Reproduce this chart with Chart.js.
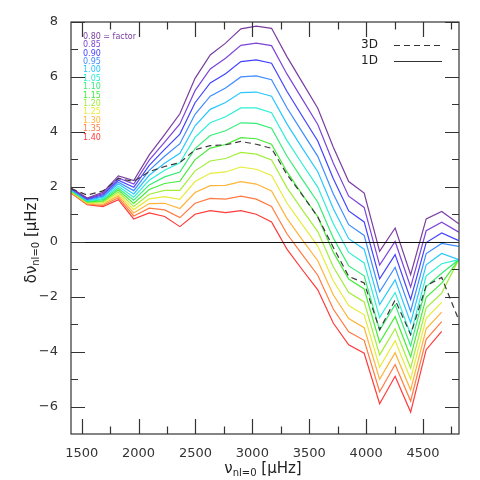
<!DOCTYPE html>
<html><head><meta charset="utf-8">
<script src="https://cdn.jsdelivr.net/npm/chart.js@4"></script>
<style>html,body{margin:0;padding:0;background:#fff}</style>
</head><body>
<canvas id="c" width="480" height="480"></canvas>
<script>
// l=0 mode frequencies (muHz)
const freqs = [1407, 1548.3, 1686.6, 1822.2, 1957.4, 2093.5, 2228.8, 2362.8, 2496.2, 2629.7, 2764.2, 2898.9, 3033.8, 3168.6, 3303.5, 3438.9, 3574.9, 3710.7, 3846.5, 3982.6, 4118.5, 4254.6, 4390.9, 4527.6, 4664.0, 4814];
const factors = ['0.80','0.85','0.90','0.95','1.00','1.05','1.10','1.15','1.20','1.25','1.30','1.35','1.40'];
const s080 = [1.96,1.59,1.80,2.40,2.23,3.16,3.90,4.66,5.95,6.80,7.23,7.75,7.85,7.77,6.74,5.80,4.86,3.45,2.19,1.77,-0.35,0.50,-1.20,0.83,1.10,0.65];
const s085 = [1.94,1.57,1.75,2.32,2.10,2.97,3.63,4.29,5.50,6.29,6.68,7.15,7.23,7.14,6.11,5.19,4.27,2.87,1.66,1.25,-0.85,0.01,-1.65,0.40,0.71,0.35];
const s090 = [1.93,1.55,1.71,2.24,1.98,2.78,3.36,3.92,5.06,5.78,6.12,6.56,6.62,6.50,5.48,4.57,3.67,2.30,1.12,0.72,-1.35,-0.47,-2.10,-0.03,0.32,0.04];
const s095 = [1.91,1.53,1.66,2.17,1.86,2.60,3.11,3.57,4.64,5.30,5.60,6.00,6.04,5.90,4.88,3.99,3.11,1.75,0.62,0.23,-1.82,-0.93,-2.53,-0.43,-0.06,-0.17];
const s100 = [1.89,1.51,1.62,2.10,1.74,2.42,2.86,3.22,4.22,4.82,5.07,5.43,5.45,5.30,4.29,3.41,2.55,1.21,0.11,-0.27,-2.29,-1.39,-2.95,-0.84,-0.43,-0.65];
const s105 = [1.88,1.49,1.57,2.02,1.62,2.24,2.60,2.87,3.80,4.33,4.55,4.87,4.87,4.70,3.69,2.83,1.99,0.66,-0.39,-0.77,-2.76,-1.85,-3.38,-1.24,-0.80,-0.65];
const s110 = [1.86,1.47,1.53,1.95,1.51,2.07,2.36,2.54,3.39,3.87,4.04,4.33,4.31,4.13,3.12,2.27,1.44,0.14,-0.88,-1.24,-3.22,-2.29,-3.79,-1.63,-1.15,-0.65];
const s115 = [1.85,1.45,1.49,1.88,1.39,1.90,2.12,2.20,2.99,3.41,3.54,3.79,3.75,3.55,2.55,1.72,0.91,-0.38,-1.36,-1.72,-3.67,-2.73,-4.19,-2.02,-1.51,-0.65];
const s120 = [1.83,1.43,1.45,1.81,1.28,1.73,1.87,1.87,2.58,2.94,3.03,3.25,3.19,2.98,1.97,1.16,0.37,-0.91,-1.85,-2.19,-4.12,-3.17,-4.60,-2.41,-1.87,-0.65];
const s125 = [1.82,1.41,1.41,1.74,1.17,1.56,1.64,1.54,2.19,2.49,2.54,2.72,2.64,2.41,1.41,0.62,-0.16,-1.42,-2.32,-2.66,-4.57,-3.60,-5.00,-2.79,-2.21,null];
const s130 = [1.80,1.39,1.36,1.67,1.05,1.39,1.40,1.21,1.79,2.04,2.05,2.19,2.10,1.85,0.85,0.07,-0.69,-1.93,-2.80,-3.13,-5.01,-4.04,-5.40,-3.17,-2.56,null];
const s135 = [1.79,1.37,1.32,1.60,0.94,1.22,1.16,0.88,1.40,1.58,1.55,1.66,1.55,1.28,0.29,-0.47,-1.22,-2.45,-3.28,-3.59,-5.46,-4.47,-5.80,-3.55,-2.91,null];
const s140 = [1.77,1.35,1.28,1.53,0.83,1.05,0.92,0.55,1.00,1.13,1.06,1.13,1.00,0.72,-0.27,-1.02,-1.75,-2.96,-3.75,-4.06,-5.90,-4.90,-6.20,-3.93,-3.26,null];
const dash3D = [1.93,1.70,1.85,2.30,2.20,2.55,2.74,2.88,3.35,3.50,3.53,3.65,3.55,3.40,2.45,1.70,0.90,-0.20,-1.26,-1.50,-3.20,-2.12,-3.38,-1.60,-1.30,-2.85];
const series = [s080,s085,s090,s095,s100,s105,s110,s115,s120,s125,s130,s135,s140];
const colors = ['#7a3da0','#7d45d8','#4343ff','#3f8cff','#2ac6ff','#2feed6','#38ec78','#45ec3a','#a2ee3a','#e6ec3a','#ffb33a','#ff7a40','#ff3a3a'];
const xMajor = [1500,2000,2500,3000,3500,4000,4500];
const xMinor = [1750,2250,2750,3250,3750,4250,4750];
const yMajor = [-6,-4,-2,0,2,4,6,8];
const yMinor = [-5,-3,-1,1,3,5,7];
const xRange = [1406, 4816];
const yRange = [-7, 8];

const datasets = [{
  label:'3D', data: freqs.map((x,i)=>({x:x, y:dash3D[i]})),
  borderColor:'#3a3a3a', borderDash:[6,4], borderWidth:1.2, pointRadius:0, order:0, fill:false
}];
series.forEach((s,k)=>datasets.push({
  label:factors[k], data: freqs.map((x,i)=>({x:x, y:s[i]})),
  borderColor:colors[k], borderWidth:1.2, pointRadius:0, order:1, fill:false, spanGaps:false
}));

const FONT = 'DejaVu Sans';
function drawComposite(ctx, x, y, parts, align){
  let w = 0;
  parts.forEach(p=>{ctx.font = p[1]+'px "'+FONT+'"'; w += ctx.measureText(p[0]).width;});
  let cx = align==='center' ? x - w/2 : x;
  ctx.textAlign='left'; ctx.textBaseline='alphabetic';
  parts.forEach(p=>{ctx.font = p[1]+'px "'+FONT+'"'; ctx.fillText(p[0], cx, y + p[2]); cx += ctx.measureText(p[0]).width;});
}

const deco = {
  id:'deco',
  afterDatasetsDraw(chart){
    const {ctx, chartArea:a, scales} = chart;
    const X = scales.x, Y = scales.y;
    ctx.save();
    const y0 = Math.round(Y.getPixelForValue(0))+0.5;
    ctx.strokeStyle='#111'; ctx.lineWidth=1.2;
    ctx.beginPath(); ctx.moveTo(a.left,y0); ctx.lineTo(a.right,y0); ctx.stroke();
    ctx.strokeStyle='#333'; ctx.lineWidth=1.2;
    ctx.strokeRect(a.left, a.top, a.right-a.left, a.bottom-a.top);
    ctx.beginPath();
    const xt=(vals,len)=>vals.forEach(v=>{const p=Math.round(X.getPixelForValue(v))+0.5; if(p<a.left||p>a.right)return;
      ctx.moveTo(p,a.bottom); ctx.lineTo(p,a.bottom-len); ctx.moveTo(p,a.top); ctx.lineTo(p,a.top+len);});
    const yt=(vals,len)=>vals.forEach(v=>{const p=Math.round(Y.getPixelForValue(v))+0.5;
      ctx.moveTo(a.left,p); ctx.lineTo(a.left+len,p); ctx.moveTo(a.right,p); ctx.lineTo(a.right-len,p);});
    xt(xMajor,15); xt(xMinor,7.5); yt(yMajor,14); yt(yMinor,7);
    ctx.stroke();
    ctx.restore();
  },
  afterDraw(chart){
    const {ctx} = chart;
    ctx.save();
    ctx.fillStyle='#222';
    drawComposite(ctx, 263, 473, [['\u03bd',15,0],['nl=0',10,3],[' [\u03bcHz]',15,0]], 'center');
    ctx.save(); ctx.translate(36, 240); ctx.rotate(-Math.PI/2);
    drawComposite(ctx, 0, 0, [['\u03b4\u03bd',15,0],['nl=0',10,3],[' [\u03bcHz]',15,0]], 'center');
    ctx.restore();
    ctx.font = '8px "'+FONT+'"'; ctx.textAlign='left'; ctx.textBaseline='middle';
    factors.forEach((f,k)=>{ctx.fillStyle=colors[k]; ctx.fillText(k===0? f+' = factor' : f, 83, 36.7+8.4*k);});
    ctx.fillStyle='#222'; ctx.font='12px "'+FONT+'"'; ctx.textBaseline='middle';
    ctx.fillText('3D', 361, 45); ctx.fillText('1D', 361, 61);
    ctx.strokeStyle='#333'; ctx.lineWidth=1.2;
    ctx.setLineDash([6,4]); ctx.beginPath(); ctx.moveTo(394,45.5); ctx.lineTo(442,45.5); ctx.stroke();
    ctx.setLineDash([]); ctx.beginPath(); ctx.moveTo(394,61.5); ctx.lineTo(442,61.5); ctx.stroke();
    ctx.restore();
  }
};

new Chart(document.getElementById('c'), {
  type:'line',
  data:{datasets},
  options:{
    responsive:false, animation:false, devicePixelRatio:1,
    layout:{padding:{top:22, right:21, left:0, bottom:0}},
    plugins:{legend:{display:false}, tooltip:{enabled:false}},
    elements:{line:{tension:0}},
    scales:{
      x:{type:'linear', min:xRange[0], max:xRange[1],
         grid:{display:false}, border:{display:false},
         afterBuildTicks(s){s.ticks = xMajor.map(v=>({value:v}));},
         afterFit(s){s.height = 46;},
         ticks:{autoSkip:false, maxRotation:0, padding:4, color:'#333', font:{family:FONT, size:13},
                callback:(v)=> String(v)}},
      y:{type:'linear', min:yRange[0], max:yRange[1],
         grid:{display:false}, border:{display:false},
         afterBuildTicks(s){s.ticks = yMajor.map(v=>({value:v}));},
         afterFit(s){s.width = 71;},
         ticks:{autoSkip:false, padding:5, color:'#333', font:{family:FONT, size:13},
                callback:(v)=> v<0 ? '\u2212'+Math.abs(v) : String(v)}}
    }
  },
  plugins:[deco]
});
</script>
</body></html>
